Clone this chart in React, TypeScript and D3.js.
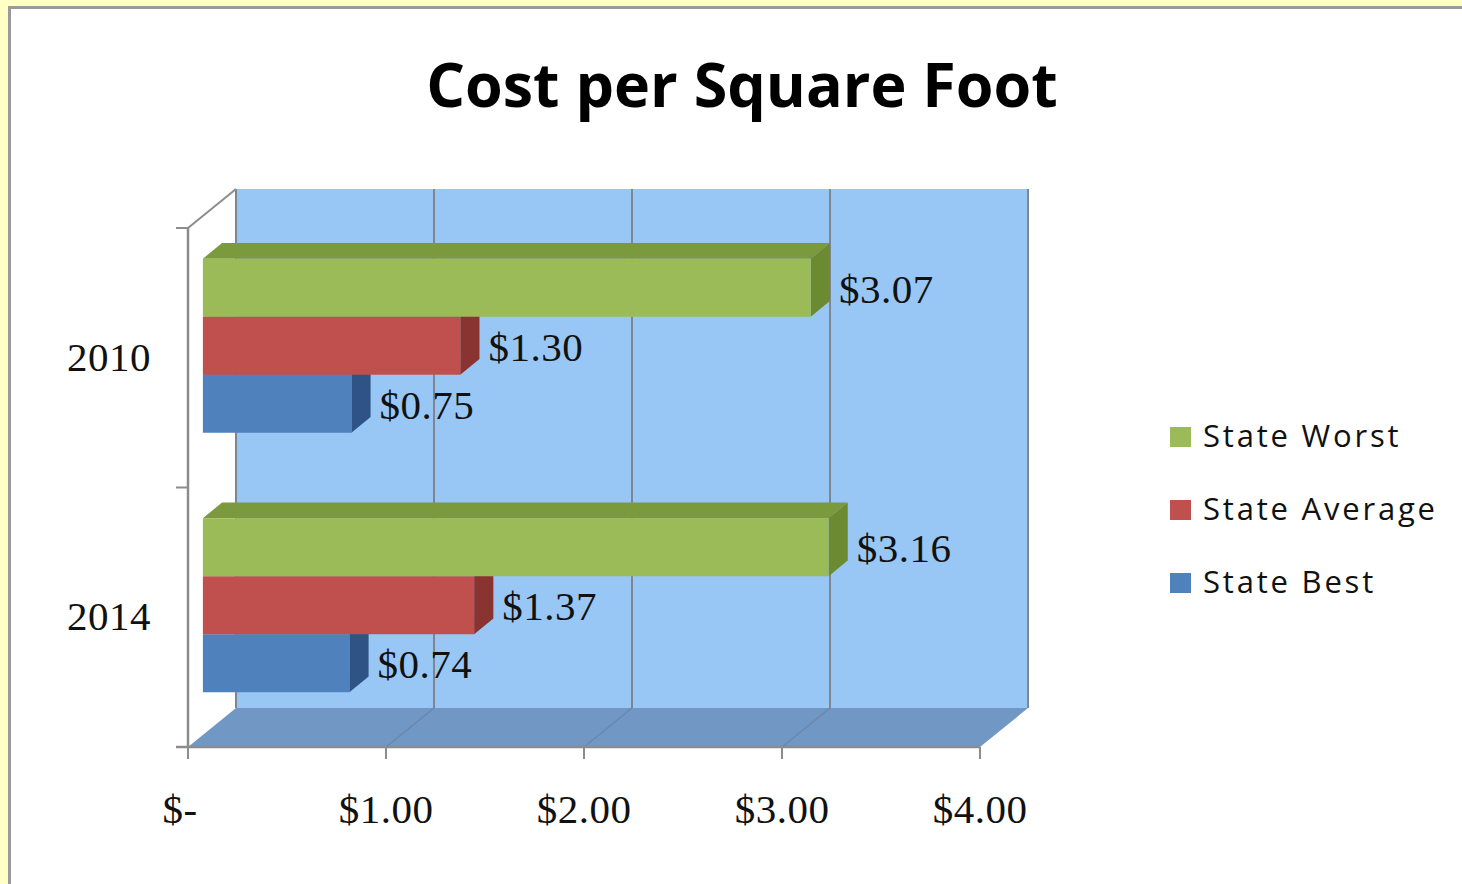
import React from "react";
import * as d3 from "d3";

const title = "Cost per Square Foot";
const categories = ["2010", "2014"];
const seriesNames = ["State Worst", "State Average", "State Best"];
const stateWorst = [3.07, 3.16];
const stateAverage = [1.3, 1.37];
const stateBest = [0.75, 0.74];
const xTickValues = [0, 1, 2, 3, 4];
const xTickLabels = ["$-", "$1.00", "$2.00", "$3.00", "$4.00"];

const seriesValues = [stateWorst, stateAverage, stateBest];
const frontColors = ["#9bbb59", "#c0504d", "#4f81bd"];
const topColors = ["#7a9a3d", "#a2403d", "#3e6ba0"];
const sideColors = ["#6c8a32", "#8a3431", "#2e5384"];

const W = 1462;
const H = 884;

export default function App() {
  const x = d3.scaleLinear().domain([0, 4]).range([188, 980]);
  const y = d3.scaleBand<string>().domain(categories).range([228, 747]).padding(0);
  const inner = d3
    .scaleBand<string>()
    .domain(seriesNames)
    .range([0, y.bandwidth()])
    .paddingInner(0)
    .paddingOuter(0.737);

  const DX = 48;
  const DY = -39;
  const f0 = 0.31;
  const f1 = 0.71;
  const ox0 = DX * f0, oy0 = DY * f0;
  const ox1 = DX * f1, oy1 = DY * f1;

  const [yTop, yBot] = y.range();
  const x0 = x(0);
  const x4 = x(4);

  const serif = "'Liberation Serif', serif";
  const sans = "'Open Sans', sans-serif";

  const bars: React.ReactNode[] = [];
  const labels: React.ReactNode[] = [];
  categories.forEach((cat, ci) => {
    for (let si = seriesNames.length - 1; si >= 0; si--) {
      const v = seriesValues[si][ci];
      const by = (y(cat) as number) + (inner(seriesNames[si]) as number);
      const bh = inner.bandwidth();
      const xa = x0;
      const xb = x(v);
      const front = `M${xa + ox0},${by + oy0}H${xb + ox0}V${by + bh + oy0}H${xa + ox0}Z`;
      const top = `M${xa + ox0},${by + oy0}L${xb + ox0},${by + oy0}L${xb + ox1},${by + oy1}L${xa + ox1},${by + oy1}Z`;
      const side = `M${xb + ox0},${by + oy0}L${xb + ox1},${by + oy1}L${xb + ox1},${by + bh + oy1}L${xb + ox0},${by + bh + oy0}Z`;
      bars.push(
        <g key={`${cat}-${si}`}>
          <path d={top} fill={topColors[si]} />
          <path d={side} fill={sideColors[si]} />
          <path d={front} fill={frontColors[si]} />
        </g>
      );
      const cy = by + oy0 + bh / 2;
      labels.push(
        <text
          key={`lab-${cat}-${si}`}
          x={xb + ox1 + 9}
          y={cy + 15}
          fontFamily={serif}
          fontSize={41}
          letterSpacing={0.5}
          fill="#111"
        >
          {d3.format("$.2f")(v)}
        </text>
      );
    }
  });

  const legendY = [437, 510, 583];

  return (
    <svg
      width={W}
      height={H}
      viewBox={`0 0 ${W} ${H}`}
      style={{ position: "absolute", left: 0, top: 0, display: "block" }}
    >
      <rect x={0} y={0} width={W} height={H} fill="#ffffc6" />
      <rect x={8} y={6} width={W} height={H} fill="#ffffff" />
      <line x1={9.5} y1={6} x2={9.5} y2={H} stroke="#9a9a9a" strokeWidth={3} />
      <line x1={8} y1={7.5} x2={W} y2={7.5} stroke="#9a9a9a" strokeWidth={3} />

      <text
        x={742}
        y={107}
        textAnchor="middle"
        fontFamily={sans}
        fontWeight={700}
        fontSize={61}
        fill="#000"
      >
        {title}
      </text>

      {/* back wall */}
      <rect x={x0 + DX} y={yTop + DY} width={x4 - x0} height={yBot - yTop} fill="#99c7f5" />
      {xTickValues.map((v) => (
        <line
          key={`g${v}`}
          x1={x(v) + DX}
          x2={x(v) + DX}
          y1={yTop + DY}
          y2={yBot + DY}
          stroke="#7f8690"
          strokeWidth={2}
        />
      ))}

      {/* floor */}
      <path
        d={`M${x0},${yBot}L${x4},${yBot}L${x4 + DX},${yBot + DY}L${x0 + DX},${yBot + DY}Z`}
        fill="#7198c4"
      />
      {xTickValues.slice(1, 4).map((v) => (
        <line
          key={`fg${v}`}
          x1={x(v)}
          y1={yBot}
          x2={x(v) + DX}
          y2={yBot + DY}
          stroke="#6a87ad"
          strokeWidth={1.5}
        />
      ))}

      {/* left wall edges */}
      <line x1={x0} y1={yTop} x2={x0 + DX} y2={yTop + DY} stroke="#8c8c8c" strokeWidth={2} />
      <line x1={x0} y1={yTop} x2={x0} y2={yBot} stroke="#8c8c8c" strokeWidth={2.5} />
      {[yTop, (yTop + yBot) / 2, yBot].map((t, i) => (
        <line key={`yt${i}`} x1={x0 - 12} x2={x0} y1={t} y2={t} stroke="#8c8c8c" strokeWidth={2} />
      ))}

      {/* x axis */}
      <line x1={x0 - 12} x2={x4} y1={yBot} y2={yBot} stroke="#8c8c8c" strokeWidth={2.5} />
      {xTickValues.map((v) => (
        <line key={`xt${v}`} x1={x(v)} x2={x(v)} y1={yBot} y2={yBot + 12} stroke="#8c8c8c" strokeWidth={2} />
      ))}
      {xTickValues.map((v, i) => (
        <text
          key={`xl${v}`}
          x={i === 0 ? x(v) - 8 : x(v)}
          y={823}
          textAnchor="middle"
          fontFamily={serif}
          fontSize={41}
          letterSpacing={0.5}
          fill="#111"
        >
          {xTickLabels[i]}
        </text>
      ))}

      {categories.map((c) => (
        <text
          key={`cl${c}`}
          x={151}
          y={(y(c) as number) + y.bandwidth() / 2 + 13}
          textAnchor="end"
          fontFamily={serif}
          fontSize={41}
          letterSpacing={0.5}
          fill="#111"
        >
          {c}
        </text>
      ))}

      {bars}
      {labels}

      {seriesNames.map((s, i) => (
        <g key={`lg${s}`}>
          <rect x={1170} y={legendY[i] - 10} width={21} height={20} fill={frontColors[i]} />
          <text
            x={1203}
            y={legendY[i] + 10}
            fontFamily={sans}
            fontSize={31}
            letterSpacing={2.8}
            fill="#111"
          >
            {s}
          </text>
        </g>
      ))}
    </svg>
  );
}
